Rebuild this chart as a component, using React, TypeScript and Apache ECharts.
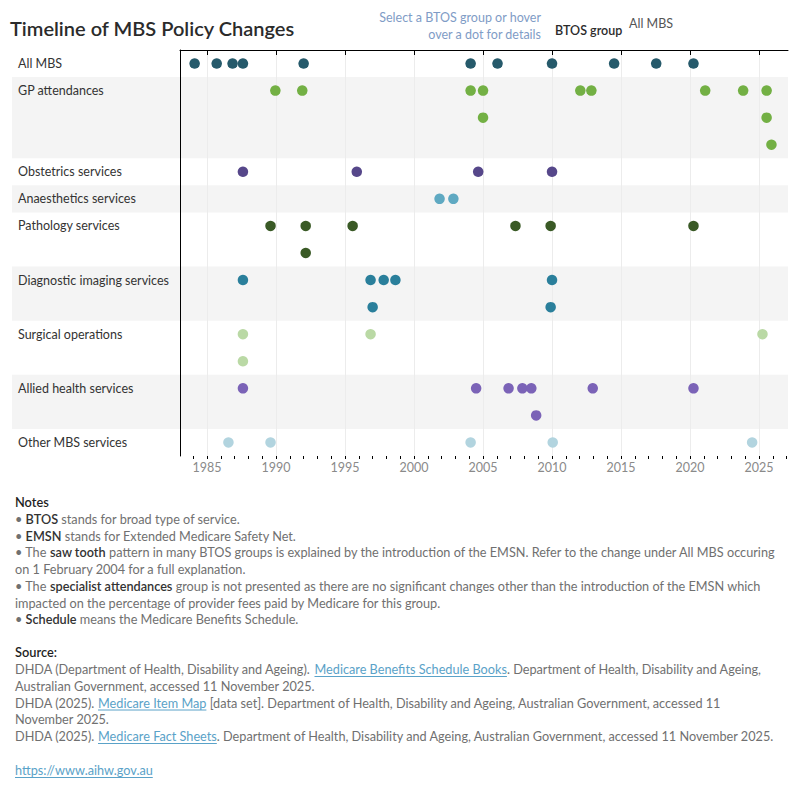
import React, { useEffect, useRef } from 'react';
import * as echarts from 'echarts';

// BTOS groups, in display order, and how many stacked rows each one needs
const groups = [
  'All MBS',
  'GP attendances',
  'Obstetrics services',
  'Anaesthetics services',
  'Pathology services',
  'Diagnostic imaging services',
  'Surgical operations',
  'Allied health services',
  'Other MBS services',
];
const groupRowCounts = [1, 3, 1, 1, 2, 2, 2, 2, 1];
const groupColors = ['#265a6b', '#73b044', '#56478a', '#5fa9c2', '#3a5a26', '#2a7f9b', '#bad9a5', '#7b63b7', '#b2d4df'];
const shadedGroups = [false, true, false, true, false, true, false, true, false];

// Policy changes: [decimal year, stack level within the group]
const allMbsChanges = [[1984.1, 0], [1985.7, 0], [1986.85, 0], [1987.6, 0], [1992.0, 0], [2004.1, 0], [2006.05, 0], [2010.0, 0], [2014.5, 0], [2017.55, 0], [2020.25, 0]];
const gpChanges = [[1989.95, 0], [1991.9, 0], [2004.1, 0], [2005.0, 0], [2012.05, 0], [2012.85, 0], [2021.1, 0], [2023.85, 0], [2025.55, 0], [2005.0, 1], [2025.55, 1], [2025.9, 2]];
const obstetricsChanges = [[1987.6, 0], [1995.85, 0], [2004.65, 0], [2010.0, 0]];
const anaestheticsChanges = [[2001.85, 0], [2002.85, 0]];
const pathologyChanges = [[1989.6, 0], [1992.15, 0], [1995.55, 0], [2007.35, 0], [2009.9, 0], [2020.25, 0], [1992.15, 1]];
const diagnosticChanges = [[1987.6, 0], [1996.85, 0], [1997.8, 0], [1998.65, 0], [2010.0, 0], [1997.0, 1], [2009.9, 1]];
const surgicalChanges = [[1987.6, 0], [1996.85, 0], [2025.25, 0], [1987.6, 1]];
const alliedChanges = [[1987.6, 0], [2004.5, 0], [2006.85, 0], [2007.85, 0], [2008.5, 0], [2012.95, 0], [2020.25, 0], [2008.85, 1]];
const otherChanges = [[1986.55, 0], [1989.6, 0], [2004.1, 0], [2010.05, 0], [2024.5, 0]];
const groupChanges = [allMbsChanges, gpChanges, obstetricsChanges, anaestheticsChanges, pathologyChanges, diagnosticChanges, surgicalChanges, alliedChanges, otherChanges];

const yearMin = 1983.04;
const yearMax = 2027.1;
const yearTicks = [1985, 1990, 1995, 2000, 2005, 2010, 2015, 2020, 2025];
const yearMinorTicks: number[] = [];
for (let y = 1983; y <= 2027; y++) yearMinorTicks.push(y);

type Seg = [string, 'n' | 'b' | 'l'];
const notesLines: Seg[][] = [
  [['• ', 'n'], ['BTOS', 'b'], [' stands for broad type of service.', 'n']],
  [['• ', 'n'], ['EMSN', 'b'], [' stands for Extended Medicare Safety Net.', 'n']],
  [['• The ', 'n'], ['saw tooth', 'b'], [' pattern in many BTOS groups is explained by the introduction of the EMSN. Refer to the change under All MBS occuring', 'n']],
  [['on 1 February 2004 for a full explanation.', 'n']],
  [['• The ', 'n'], ['specialist attendances', 'b'], [' group is not presented as there are no significant changes other than the introduction of the EMSN which', 'n']],
  [['impacted on the percentage of provider fees paid by Medicare for this group.', 'n']],
  [['• ', 'n'], ['Schedule', 'b'], [' means the Medicare Benefits Schedule.', 'n']],
];
const sourceLines: Seg[][] = [
  [['DHDA (Department of Health, Disability and Ageing).', 'n'], [' ', 'n'], ['Medicare Benefits Schedule Books', 'l'], ['. Department of Health, Disability and Ageing,', 'n']],
  [['Australian Government, accessed 11 November 2025.', 'n']],
  [['DHDA (2025).', 'n'], [' ', 'n'], ['Medicare Item Map', 'l'], [' [data set]. Department of Health, Disability and Ageing, Australian Government, accessed 11', 'n']],
  [['November 2025.', 'n']],
  [['DHDA (2025).', 'n'], [' ', 'n'], ['Medicare Fact Sheets', 'l'], ['. Department of Health, Disability and Ageing, Australian Government, accessed 11 November 2025.', 'n']],
];
const siteLink = 'https://www.aihw.gov.au';

const FONT = 'Lato, "Noto Sans", sans-serif';
const BODY_SIZE = 12.7;
const TEXT_GREY = '#707070';
const TEXT_DARK = '#333333';
const LINK_BLUE = '#5aa2c8';

function buildRows() {
  const offsets: number[] = [];
  let acc = 0;
  groupRowCounts.forEach((n) => {
    offsets.push(acc);
    acc += n;
  });
  return { offsets, total: acc };
}

function layoutLines(lines: Seg[][], x0: number, y0: number, step: number) {
  const ctx = document.createElement('canvas').getContext('2d')!;
  const out: any[] = [];
  lines.forEach((line, i) => {
    const y = y0 + i * step;
    let x = x0;
    line.forEach(([text, kind]) => {
      const weight = kind === 'b' ? 600 : 400;
      ctx.font = `${weight} ${BODY_SIZE}px ${FONT}`;
      const w = ctx.measureText(text).width;
      if (text.trim() !== '') {
        out.push({
          type: 'text',
          x,
          y,
          style: {
            text,
            fill: kind === 'l' ? LINK_BLUE : kind === 'b' ? TEXT_DARK : TEXT_GREY,
            fontFamily: FONT,
            fontSize: BODY_SIZE,
            fontWeight: weight,
            verticalAlign: 'middle',
          },
        });
      }
      if (kind === 'l') {
        out.push({
          type: 'line',
          shape: { x1: x, y1: y + 7.5, x2: x + w, y2: y + 7.5 },
          style: { stroke: LINK_BLUE, lineWidth: 1 },
        });
      }
      x += w;
    });
  });
  return out;
}

export default function App() {
  const ref = useRef<HTMLDivElement>(null);

  useEffect(() => {
    if (!ref.current) return;
    const chart = echarts.init(ref.current, undefined, { renderer: 'svg' });
    const { offsets, total } = buildRows();

    const bandData = groups.map((g, i) => [i, offsets[i], groupRowCounts[i]]);

    const scatterSeries = groups.map((g, i) => ({
      type: 'scatter',
      name: g,
      z: 3,
      symbol: 'circle',
      symbolSize: 10.5,
      itemStyle: { color: groupColors[i], opacity: 1 },
      data: groupChanges[i].map(([yr, lvl]) => [yr, offsets[i] + lvl + 0.5]),
    }));

    const headerGraphics: any[] = [
      {
        type: 'text',
        x: 10,
        y: 28,
        style: { text: 'Timeline of MBS Policy Changes', fill: '#2b2b2b', fontFamily: FONT, fontSize: 20, fontWeight: 600, verticalAlign: 'middle' },
      },
      {
        type: 'text',
        x: 541,
        y: 17,
        style: { text: 'Select a BTOS group or hover', fill: '#7f9cc6', fontFamily: FONT, fontSize: 12.5, align: 'right', verticalAlign: 'middle' },
      },
      {
        type: 'text',
        x: 541,
        y: 34,
        style: { text: 'over a dot for details', fill: '#7f9cc6', fontFamily: FONT, fontSize: 12.5, align: 'right', verticalAlign: 'middle' },
      },
      {
        type: 'text',
        x: 555,
        y: 30,
        style: { text: 'BTOS group', fill: '#2b2b2b', fontFamily: FONT, fontSize: 12.5, fontWeight: 600, verticalAlign: 'middle' },
      },
      {
        type: 'text',
        x: 629,
        y: 23,
        style: { text: 'All MBS', fill: '#555555', fontFamily: FONT, fontSize: 12.5, verticalAlign: 'middle' },
      },
      {
        type: 'text',
        x: 15,
        y: 502,
        style: { text: 'Notes', fill: '#1f1f1f', fontFamily: FONT, fontSize: 12.8, fontWeight: 600, verticalAlign: 'middle' },
      },
      {
        type: 'text',
        x: 15,
        y: 652,
        style: { text: 'Source:', fill: '#1f1f1f', fontFamily: FONT, fontSize: 12.8, fontWeight: 600, verticalAlign: 'middle' },
      },
      ...layoutLines(notesLines, 15, 519, 16.7),
      ...layoutLines(sourceLines, 15, 669, 16.75),
      ...layoutLines([[[siteLink, 'l']]], 15, 770, 16.7),
    ];

    chart.setOption({
      animation: false,
      backgroundColor: '#ffffff',
      grid: { left: 180, right: 12, top: 50, bottom: 344, containLabel: false },
      xAxis: [
        {
          type: 'value',
          min: yearMin,
          max: yearMax,
          axisLine: { show: true, lineStyle: { color: '#000000', width: 1 } },
          axisTick: { show: true, customValues: yearTicks, length: 5, lineStyle: { color: '#000000' } },
          axisLabel: {
            show: true,
            customValues: yearTicks,
            formatter: (v: number) => String(Math.round(v)),
            color: '#8a8a8a',
            fontSize: 12.5,
            fontFamily: FONT,
            margin: 5,
          },
          splitLine: { show: true, customValues: yearTicks, lineStyle: { color: '#ececec', width: 1 } },
        },
        {
          type: 'value',
          min: yearMin,
          max: yearMax,
          position: 'bottom',
          axisLine: { show: false },
          axisTick: { show: true, customValues: yearMinorTicks, length: 3, lineStyle: { color: '#000000' } },
          axisLabel: { show: false },
          splitLine: { show: false },
        },
      ],
      yAxis: {
        type: 'value',
        min: 0,
        max: total,
        inverse: true,
        axisLine: { show: true, onZero: false, lineStyle: { color: '#000000', width: 1 } },
        axisTick: { show: false },
        axisLabel: { show: false },
        splitLine: { show: false },
      },
      series: [
        {
          type: 'custom',
          z: -1,
          silent: true,
          clip: false,
          data: bandData,
          renderItem: (params: any, api: any) => {
            const gi = api.value(0);
            const start = api.value(1);
            const count = api.value(2);
            const cs = params.coordSys;
            const top = api.coord([yearMin, start])[1];
            const bottom = api.coord([yearMin, start + count])[1];
            const labelY = api.coord([yearMin, start + 0.5])[1];
            const children: any[] = [];
            if (shadedGroups[gi]) {
              children.push({
                type: 'rect',
                shape: { x: 12, y: top, width: cs.x + cs.width - 12, height: bottom - top },
                style: { fill: '#f4f4f4' },
              });
            }
            children.push({
              type: 'text',
              x: 18,
              y: labelY,
              style: { text: groups[gi], fill: TEXT_DARK, fontFamily: FONT, fontSize: 12.5, verticalAlign: 'middle' },
            });
            return { type: 'group', children };
          },
        },
        ...scatterSeries,
      ],
      graphic: headerGraphics,
    });

    return () => chart.dispose();
  }, []);

  return (
    <div
      ref={ref}
      style={{ position: 'absolute', left: 0, top: 0, width: 800, height: 800, background: '#ffffff' }}
    />
  );
}
